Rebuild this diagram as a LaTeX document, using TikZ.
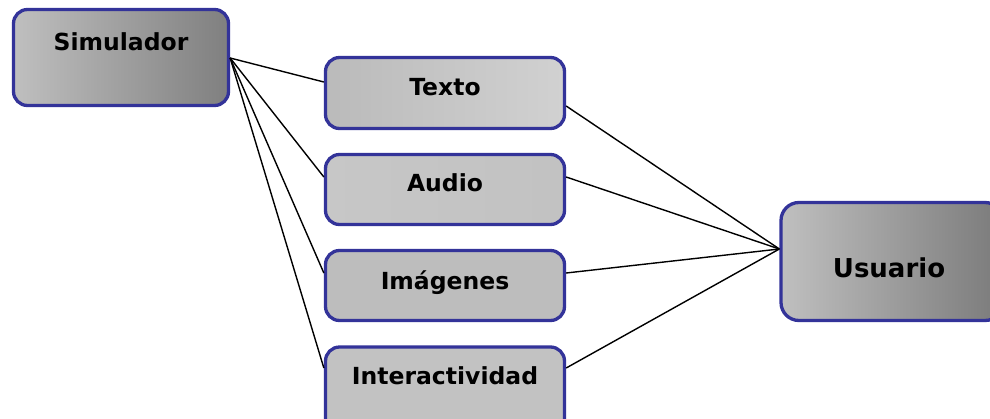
\documentclass[tikz,border=0pt]{standalone}
\usepackage{fontspec}
\setmainfont{DejaVu Sans}
\usetikzlibrary{calc}
\definecolor{rim}{RGB}{51,51,153}
\tikzset{
  box/.style={draw=rim, line width=3.3pt, rounded corners=14pt, inner sep=0pt},
  lbl/.style={anchor=base, font=\bfseries\fontsize{23.5}{27}\selectfont, inner sep=0pt},
  link/.style={line width=1.4pt, black}
}
\begin{document}
\begin{tikzpicture}[x=1pt, y=-1pt]
  \useasboundingbox (0,0) rectangle (990,418);
  \clip (0,0) rectangle (990,418);

  % boxes
  \node[box, minimum width=215pt, minimum height=96pt, left color=black!25, right color=black!50] (sim) at (121,57.5) {};
  \node[box, minimum width=239pt, minimum height=71pt, left color=black!27, right color=black!18] (texto) at (445,93) {};
  \node[box, minimum width=239pt, minimum height=70pt, left color=black!22, right color=black!24] (audio) at (445,189.5) {};
  \node[box, minimum width=239pt, minimum height=70pt, left color=black!26, right color=black!26] (imag) at (445,285.5) {};
  \node[box, minimum width=239pt, minimum height=90pt, left color=black!24, right color=black!24] (inter) at (445,392) {};
  \node[box, minimum width=222pt, minimum height=118pt, rounded corners=18pt, left color=black!25, right color=black!52] (usu) at (892,261.5) {};

  % labels
  \node[lbl] (simt) at (121,50) {Simulador};
  \node[lbl] (textot) at (445,95) {Texto};
  \node[lbl] (audiot) at (445,191.5) {Audio};
  \node[lbl] (imagt) at (445,289) {Imágenes};
  \node[lbl] (intert) at (445,384) {Interactividad};
  \node[lbl, font=\bfseries\fontsize{26}{30}\selectfont] (usut) at (889,277) {Usuario};

  % attachment points
  \coordinate (s-out) at ([yshift=-0.5pt]sim.east);
  \coordinate (t-in) at ([yshift=11pt]texto.west);
  \coordinate (t-out) at ([yshift=-13pt]texto.east);
  \coordinate (a-in) at ([yshift=12.5pt]audio.west);
  \coordinate (a-out) at ([yshift=12.5pt]audio.east);
  \coordinate (i-in) at ([yshift=12.5pt]imag.west);
  \coordinate (i-out) at ([yshift=12.5pt]imag.east);
  \coordinate (n-in) at ([yshift=24pt]inter.west);
  \coordinate (n-out) at ([yshift=24pt]inter.east);
  \coordinate (u-in) at ([yshift=12.5pt]usu.west);

  % connectors
  \foreach \p in {t-in,a-in,i-in,n-in} \draw[link] (s-out) -- (\p);
  \foreach \p in {t-out,a-out,i-out,n-out} \draw[link] (\p) -- (u-in);
\end{tikzpicture}
\end{document}
